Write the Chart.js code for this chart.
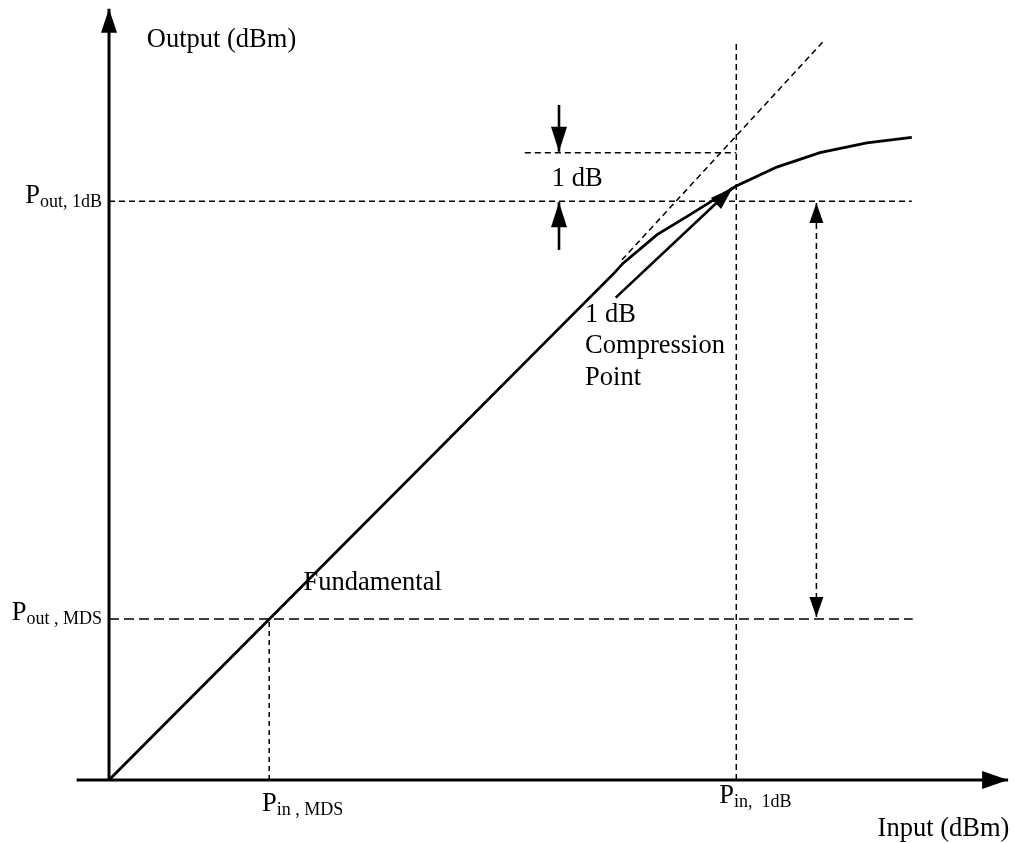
<!DOCTYPE html>
<html>
<head>
<meta charset="utf-8">
<script src="https://cdn.jsdelivr.net/npm/chart.js@4"></script>
<style>
    html, body { margin: 0; padding: 0; background: #fff; }
    #wrap { width: 1014px; height: 843px; }
</style>
</head>
<body>
<div id="wrap"><canvas id="chart"></canvas></div>
<script>
// curve values, in dBm-like units (origin = 0,0)
var fundX = [0, 56.2, 57.1, 60.9, 64.2, 67.1, 69.7, 74.2, 79.0, 84.2, 89.2]
var fundY = [0, 56.4, 57.4, 60.6, 62.6, 64.4, 66.0, 68.1, 69.7, 70.8, 71.4]
var linearX = [57.0, 79.4]
var linearY = [57.8, 82.1]

// reference levels
var pIn1dB = 69.7
var pOut1dB = 64.3
var pOutIdeal = 69.7
var pInMDS = 17.8
var pOutMDS = 17.9

// axis extents
var xAxisX = [-3.6, 99.9]
var yAxisY = [0, 85.7]

// arrows
var compArrowX = [56.3, 69.3]
var compArrowY = [53.6, 65.8]
var dbArrowX = 50.0
var dbTopY = [75.0, 69.8]
var dbBotY = [58.9, 64.2]
var spanX = 78.6
var spanY = [64.1, 18.1]

function pts(xs, ys) {
    return xs.map(function(x, i) { return { x: x, y: ys[i] } })
}

var labels = [
    { x: 4.2, y: 81.4, text: 'Output (dBm)' },
    { x: 85.4, y: -6.2, text: 'Input (dBm)' },
    { x: 67.8, y: -2.6, text: 'P', sub: 'in,  1dB' },
    { x: 17.0, y: -3.4, text: 'P', sub: 'in , MDS' },
    { x: -9.3, y: 64.1, text: 'P', sub: 'out, 1dB' },
    { x: -10.8, y: 17.8, text: 'P', sub: 'out , MDS' },
    { x: 49.2, y: 66.0, text: '1 dB' },
    { x: 52.9, y: 50.9, text: '1 dB' },
    { x: 52.9, y: 47.4, text: 'Compression' },
    { x: 52.9, y: 43.9, text: 'Point' },
    { x: 21.6, y: 21.1, text: 'Fundamental' }
]

function line(data, width, dash, extra) {
    var d = {
        data: data,
        showLine: true,
        borderColor: '#000',
        backgroundColor: '#000',
        borderWidth: width,
        borderDash: dash || [],
        pointRadius: 0,
        tension: 0,
        clip: false
    }
    return Object.assign(d, extra || {})
}

var arrowHeads = {
    id: 'arrowHeads',
    afterDatasetsDraw: function(chart) {
        var ctx = chart.ctx
        chart.data.datasets.forEach(function(ds, i) {
            if (!ds.heads) return
            var p = chart.getDatasetMeta(i).data
            var head = function(tip, from) {
                var a = Math.atan2(tip.y - from.y, tip.x - from.x)
                var L = ds.headLen, H = ds.headHalf
                ctx.save()
                ctx.translate(tip.x, tip.y)
                ctx.rotate(a)
                ctx.beginPath()
                ctx.moveTo(0, 0)
                ctx.lineTo(-L, -H)
                ctx.lineTo(-L, H)
                ctx.closePath()
                ctx.fillStyle = '#000'
                ctx.fill()
                ctx.restore()
            }
            if (ds.heads.indexOf('end') >= 0) head(p[p.length - 1], p[p.length - 2])
            if (ds.heads.indexOf('start') >= 0) head(p[0], p[1])
        })
    }
}

var textLabels = {
    id: 'textLabels',
    afterDraw: function(chart) {
        var ctx = chart.ctx
        var sx = chart.scales.x, sy = chart.scales.y
        ctx.save()
        ctx.fillStyle = '#000'
        ctx.textBaseline = 'alphabetic'
        labels.forEach(function(l) {
            var px = sx.getPixelForValue(l.x)
            var py = sy.getPixelForValue(l.y)
            ctx.font = '26.5px "Liberation Serif"'
            ctx.fillText(l.text, px, py)
            if (l.sub) {
                var w = ctx.measureText(l.text).width
                ctx.font = '18px "Liberation Serif"'
                ctx.fillText(l.sub, px + w, py + 4)
            }
        })
        ctx.restore()
    }
}

var ctx = document.getElementById('chart').getContext('2d')
var chart = new Chart(ctx, {
    type: 'scatter',
    data: {
        datasets: [
            line(pts(xAxisX, [0, 0]), 3, null, { heads: ['end'], headLen: 26, headHalf: 9 }),
            line(pts([0, 0], yAxisY), 3, null, { heads: ['end'], headLen: 24, headHalf: 8 }),
            line(pts([0, 89.2], [pOut1dB, pOut1dB]), 1.5, [6, 4]),
            line(pts([46.2, pIn1dB], [pOutIdeal, pOutIdeal]), 1.5, [6, 4]),
            line(pts([pIn1dB, pIn1dB], [0, 82.2]), 1.5, [6, 4]),
            line(pts([0, 89.3], [pOutMDS, pOutMDS]), 1.5, [10, 5]),
            line(pts([pInMDS, pInMDS], [0, pOutMDS]), 1.5, [5, 4]),
            line(pts(linearX, linearY), 1.5, [6, 4]),
            line(pts(fundX, fundY), 2.8),
            line(pts(compArrowX, compArrowY), 2.6, null, { heads: ['end'], headLen: 23, headHalf: 7.5 }),
            line(pts([dbArrowX, dbArrowX], dbTopY), 2.6, null, { heads: ['end'], headLen: 25, headHalf: 8 }),
            line(pts([dbArrowX, dbArrowX], dbBotY), 2.6, null, { heads: ['end'], headLen: 25, headHalf: 8 }),
            line(pts([spanX, spanX], spanY), 1.5, [6, 4], { heads: ['start', 'end'], headLen: 20, headHalf: 7 })
        ]
    },
    options: {
        responsive: true,
        maintainAspectRatio: false,
        animation: false,
        layout: { padding: { left: 109, right: 5, top: 6, bottom: 63 } },
        plugins: {
            legend: { display: false },
            tooltip: { enabled: false }
        },
        scales: {
            x: { type: 'linear', min: 0, max: 100, display: false },
            y: { type: 'linear', min: 0, max: 86, display: false }
        }
    },
    plugins: [arrowHeads, textLabels]
})
</script>
</body>
</html>
